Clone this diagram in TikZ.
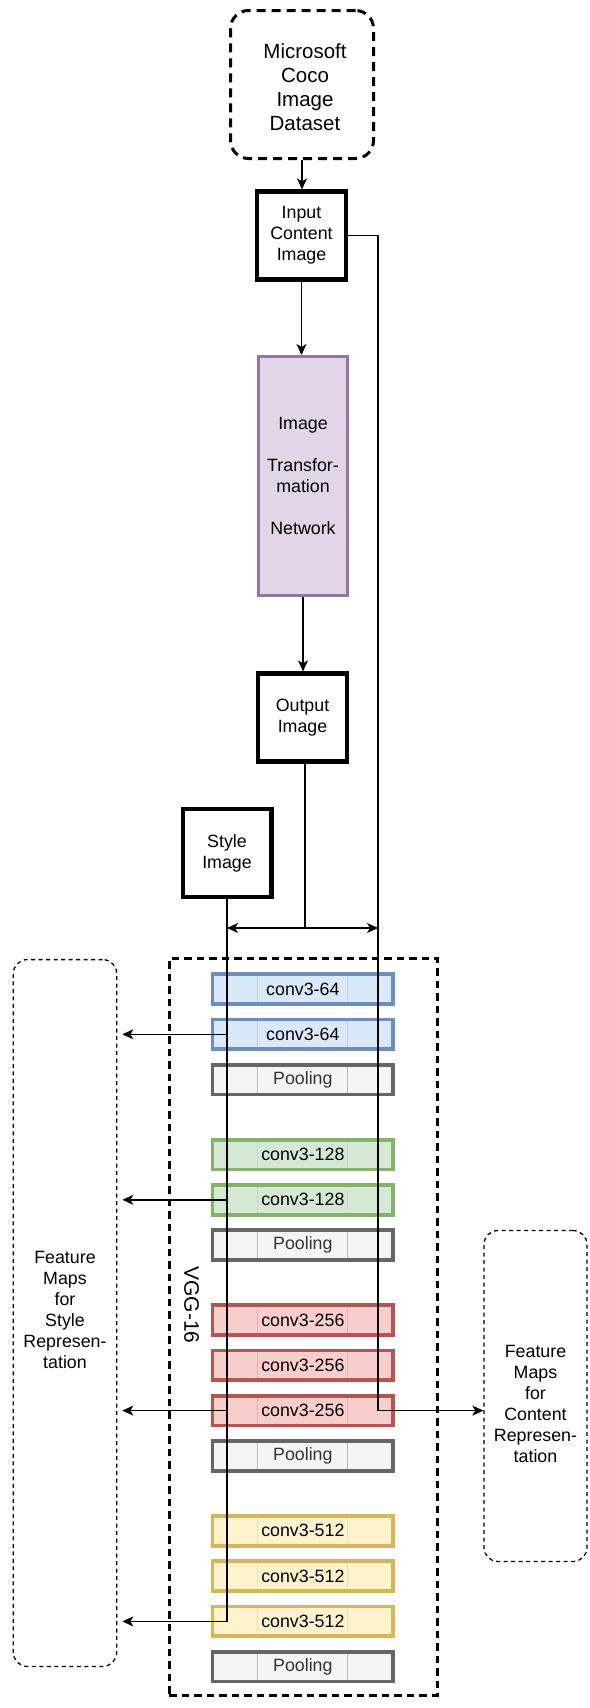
\documentclass[tikz,border=0pt]{standalone}
\usepackage{fontspec}
\setmainfont{Liberation Sans}
\usetikzlibrary{arrows.meta}

\definecolor{blueF}{HTML}{DAE8FC}\definecolor{blueS}{HTML}{6C8EBF}
\definecolor{greenF}{HTML}{D5E8D4}\definecolor{greenS}{HTML}{82B366}
\definecolor{redF}{HTML}{F8CECC}\definecolor{redS}{HTML}{B85450}
\definecolor{yellowF}{HTML}{FFF2CC}\definecolor{yellowS}{HTML}{D6B656}
\definecolor{grayF}{HTML}{F5F5F5}\definecolor{grayS}{HTML}{666666}
\definecolor{purpleF}{HTML}{E1D5E7}\definecolor{purpleS}{HTML}{9673A6}
\definecolor{txtgray}{HTML}{333333}

\tikzset{
  txt/.style={font=\fontsize{17.8}{21}\selectfont, align=center, inner sep=0pt},
  imgbox/.style={draw, line width=4.2pt, minimum width=88.8pt, minimum height=88pt, txt},
  fbox/.style={draw, line width=1.3pt, dash pattern=on 4pt off 3.5pt, rounded corners=14pt, inner sep=0pt},
  layer/.style 2 args={draw=#2, fill=#1, line width=3.7pt, minimum width=180.6pt,
    minimum height=29.7pt, txt,
    path picture={
      \draw[#2!45!white, line width=1.2pt]
        ([xshift=-45.5pt]path picture bounding box.north) -- ([xshift=-45.5pt]path picture bounding box.south)
        ([xshift=44.9pt]path picture bounding box.north) -- ([xshift=44.9pt]path picture bounding box.south);}},
  pool/.style={layer={grayF}{grayS}, text=txtgray},
  wire/.style={line width=1.4pt},
  arr/.style={wire, -{Stealth[length=11pt,width=10pt,inset=3pt]}},
  arrboth/.style={wire, {Stealth[length=11pt,width=10pt,inset=3pt]}-{Stealth[length=11pt,width=10pt,inset=3pt]}}
}

\begin{document}
\begin{tikzpicture}[x=1pt,y=-1pt]
\useasboundingbox (0,0) rectangle (589,1708);

% source dataset and images
\node[draw, line width=3pt, dash pattern=on 9pt off 6pt, rounded corners=18pt,
      minimum width=143pt, minimum height=148pt, inner sep=0pt] (coco) at (302,84.5) {};
\node[txt, font=\fontsize{20.5}{24}\selectfont] (cocotxt) at (305,87) {Microsoft\\Coco\\Image\\Dataset};

\node[imgbox] (inp) at (301.5,235.5) {Input\\Content\\Image};
\node[draw=purpleS, fill=purpleF, line width=2.7pt, minimum width=89.3pt, minimum height=239.3pt, txt]
  (itn) at (303,476) {Image\\[21pt]Transfor-\\mation\\[21pt]Network};
\node[imgbox] (out) at (302.5,717.5) {Output\\Image};
\node[imgbox] (sty) at (227,853.3) {Style\\Image};

% VGG-16 container
\node[draw, line width=3pt, dash pattern=on 7.5pt off 5pt, minimum width=268pt,
      minimum height=736.4pt, inner sep=0pt] (vgg) at (303.2,1327) {};
\node[rotate=-90, font=\fontsize{21}{25}\selectfont, inner sep=0pt] (vgglbl) at (191.5,1305) {VGG-16};

% feature map collectors
\node[fbox, minimum width=103.4pt, minimum height=706.8pt] (lfeat) at (65,1313) {};
\node[txt] (lfeattxt) at (65,1310) {Feature\\Maps\\for\\Style\\Represen-\\tation};
\node[fbox, minimum width=103pt, minimum height=331pt] (rfeat) at (535.5,1396) {};
\node[txt] (rfeattxt) at (535.5,1404) {Feature\\Maps\\for\\Content\\Represen-\\tation};

% layers
\node[layer={blueF}{blueS}] (c1) at (302.85,989) {conv3-64};
\node[layer={blueF}{blueS}] (c2) at (302.85,1034.3) {conv3-64};
\node[pool] (c3) at (302.85,1079.6) {Pooling};
\node[layer={greenF}{greenS}] (c4) at (302.85,1154.5) {conv3-128};
\node[layer={greenF}{greenS}] (c5) at (302.85,1199.8) {conv3-128};
\node[pool] (c6) at (302.85,1245.1) {Pooling};
\node[layer={redF}{redS}] (c7) at (302.85,1320) {conv3-256};
\node[layer={redF}{redS}] (c8) at (302.85,1365.3) {conv3-256};
\node[layer={redF}{redS}] (c9) at (302.85,1410.6) {conv3-256};
\node[pool] (c10) at (302.85,1455.9) {Pooling};
\node[layer={yellowF}{yellowS}] (c11) at (302.85,1530.8) {conv3-512};
\node[layer={yellowF}{yellowS}] (c12) at (302.85,1576.1) {conv3-512};
\node[layer={yellowF}{yellowS}] (c13) at (302.85,1621.4) {conv3-512};
\node[pool] (c14) at (302.85,1666.7) {Pooling};

% connectors
\coordinate (cbus) at (378,236);
\coordinate (osplit) at (305,928);

\draw[arr] (coco.south) -- (coco.south |- inp.north);
\draw[arr] (inp.south) -- (inp.south |- itn.north);
\draw[arr] (itn.south) -- (itn.south |- out.north);

\draw[arr] (inp.east) -| (cbus |- c9) -- (rfeat.west |- c9);

\draw[wire] (out.south -| osplit) -- (osplit);
\draw[arrboth] (sty.south |- osplit) -- (cbus |- osplit);

\draw[arr, shorten >=5pt] (sty.south) |- (lfeat.east |- c13);
\foreach \c in {c2,c5,c9}
  \draw[arr, shorten >=5pt] (sty.south |- \c) -- (lfeat.east |- \c);
\end{tikzpicture}
\end{document}
